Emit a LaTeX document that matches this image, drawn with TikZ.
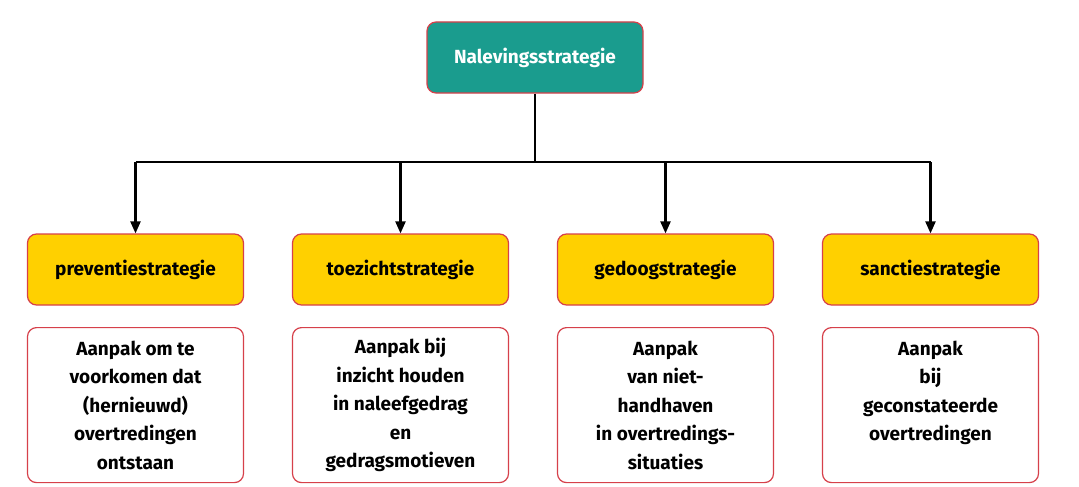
\documentclass[tikz,border=0pt]{standalone}
\usepackage{fontspec}
\setmainfont{Fira Sans}
\usetikzlibrary{arrows.meta}
\definecolor{teal1}{HTML}{1A9C8E}
\definecolor{yel}{HTML}{FFD000}
\definecolor{bord}{HTML}{D6404A}
\begin{document}
\begin{tikzpicture}[x=1pt,y=-1pt,
  box/.style={draw=bord,line width=1.2pt,rounded corners=9pt,minimum width=216pt,font=\bfseries\fontsize{19}{28.5}\selectfont,align=center},
  top/.style={box,fill=teal1,text=white,minimum width=216pt,minimum height=71pt},
  cat/.style={box,fill=yel,minimum height=71pt},
  desc/.style={box,fill=white,minimum height=155pt},
  arr/.style={line width=2.2pt,-{Triangle[length=12pt,width=10pt]}}]
\useasboundingbox (0,0) rectangle (1079,487);
\node[top] (t) at (535,57.5) {Nalevingsstrategie};
\node[cat] (c1) at (135.5,269.5) {preventiestrategie};
\node[cat] (c2) at (400.5,269.5) {toezichtstrategie};
\node[cat] (c3) at (665.5,269.5) {gedoogstrategie};
\node[cat] (c4) at (930.5,269.5) {sanctiestrategie};
\node[desc,anchor=north] (d1) at (135.5,327) {Aanpak om te\\voorkomen dat\\(hernieuwd)\\overtredingen\\ontstaan};
\node[desc,anchor=north] (d2) at (400.5,327) {Aanpak bij\\inzicht houden\\in naleefgedrag\\en\\gedragsmotieven};
\node[desc,anchor=north] (d3) at (665.5,327) {Aanpak\\van niet-\\handhaven\\in overtredings-\\situaties};
\node[desc,anchor=north] (d4) at (930.5,327) {Aanpak\\bij\\geconstateerde\\overtredingen\\\phantom{X}};
\coordinate (j) at (535,162);
\draw[line width=2.2pt] (t.south) -- (j);
\draw[line width=2.2pt] (c1.north |- j) -- (c4.north |- j);
\foreach \c in {c1,c2,c3,c4} \draw[arr] (\c.north |- j) -- (\c.north);
\end{tikzpicture}
\end{document}
